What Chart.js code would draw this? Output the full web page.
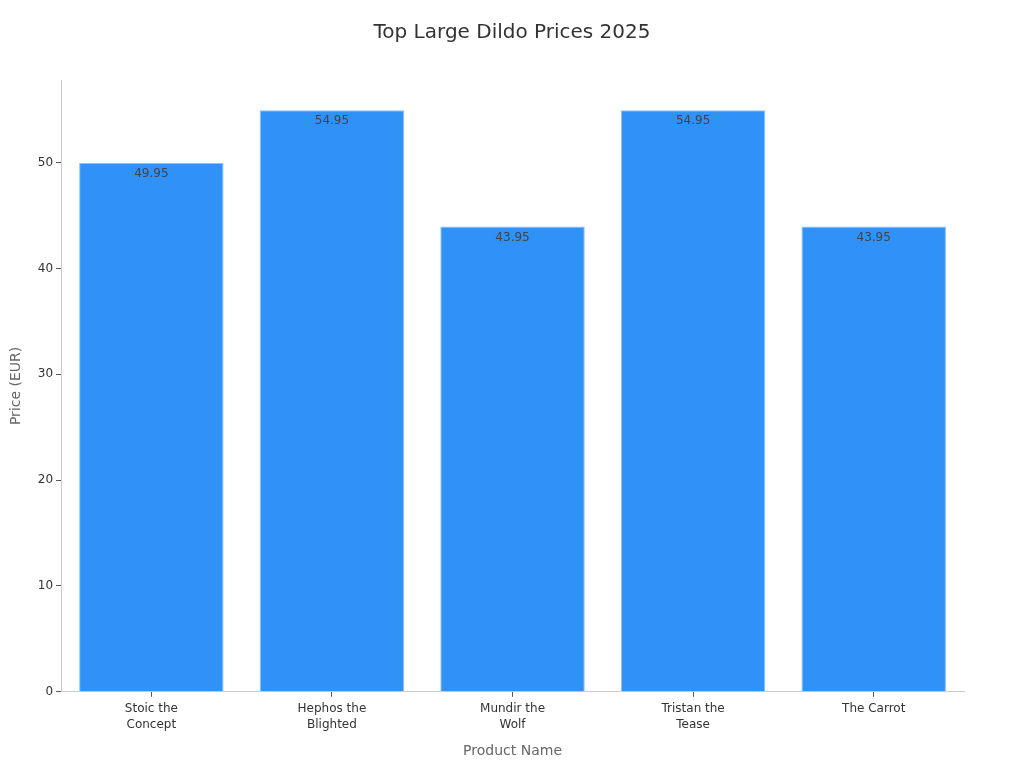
<!DOCTYPE html>
<html>
<head>
<meta charset="utf-8">
<script src="https://cdn.jsdelivr.net/npm/chart.js@4.4.1/dist/chart.umd.min.js"></script>
<style>
  html, body { margin: 0; padding: 0; background: #fff; }
  #wrap { width: 1024px; height: 768px; }
</style>
</head>
<body>
<div id="wrap"><canvas id="chart" width="1024" height="768"></canvas></div>
<script>
// chart data
const chartTitle = 'Top Large Dildo Prices 2025';
const products = [['Stoic the', 'Concept'], ['Hephos the', 'Blighted'], ['Mundir the', 'Wolf'], ['Tristan the', 'Tease'], 'The Carrot'];
const prices = [49.95, 54.95, 43.95, 54.95, 43.95];
const yTicks = [0, 10, 20, 30, 40, 50];

// draws the value just inside the top of each bar
const valueLabels = {
  id: 'valueLabels',
  afterDatasetsDraw(chart){
    const ctx = chart.ctx;
    const meta = chart.getDatasetMeta(0);
    ctx.save();
    ctx.font = '12px "DejaVu Sans"';
    ctx.fillStyle = '#444';
    ctx.textAlign = 'center';
    ctx.textBaseline = 'top';
    meta.data.forEach(function(bar, i){
      ctx.fillText(prices[i].toFixed(2), bar.x, bar.y + 5);
    });
    ctx.restore();
  }
};

// title centred on the whole canvas (the layout padding would push the built-in one off centre)
const pageTitle = {
  id: 'pageTitle',
  afterDraw(chart){
    const ctx = chart.ctx;
    ctx.save();
    ctx.font = '20px "DejaVu Sans"';
    ctx.fillStyle = '#333';
    ctx.textAlign = 'center';
    ctx.textBaseline = 'middle';
    ctx.fillText(chartTitle, chart.width / 2, 33);
    ctx.restore();
  }
};

Chart.defaults.font.family = '"DejaVu Sans", sans-serif';
Chart.defaults.color = '#333';

new Chart(document.getElementById('chart').getContext('2d'), {
  type: 'bar',
  data: {
    labels: products,
    datasets: [{
      label: 'Price (EUR)',
      data: prices,
      backgroundColor: '#3091f7',
      borderColor: '#8cc2fa',
      borderWidth: 1,
      barPercentage: 0.8,
      categoryPercentage: 1.0
    }]
  },
  options: {
    responsive: false,
    animation: false,
    layout: { padding: { left: 4, right: 60, top: 80, bottom: 4 } },
    plugins: {
      legend: { display: false },
      tooltip: { enabled: false },
      title: { display: false }
    },
    scales: {
      x: {
        grid: { display: true, offset: false, drawOnChartArea: false, drawTicks: true, tickLength: 5, color: '#555' },
        border: { color: '#ccc' },
        ticks: { color: '#333', font: { size: 12, lineHeight: 1.35 }, padding: 4, maxRotation: 0 },
        title: { display: true, text: 'Product Name', color: '#666', font: { size: 14 }, padding: { top: 6 } }
      },
      y: {
        min: 0,
        max: 57.8,
        afterBuildTicks(axis){ axis.ticks = yTicks.map(v => ({ value: v })); },
        grid: { display: true, drawOnChartArea: false, drawTicks: true, tickLength: 5, color: '#555' },
        border: { color: '#ccc' },
        ticks: { color: '#333', font: { size: 12 }, padding: 3 },
        title: { display: true, text: 'Price (EUR)', color: '#666', font: { size: 14 }, padding: { bottom: 10 } }
      }
    }
  },
  plugins: [valueLabels, pageTitle]
});
</script>
</body>
</html>
